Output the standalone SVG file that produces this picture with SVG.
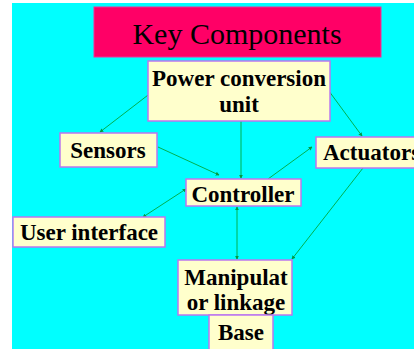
<svg xmlns="http://www.w3.org/2000/svg" width="414" height="349" viewBox="0 0 414 349">
<defs>
<marker id="ah" viewBox="0 0 6 6" refX="5" refY="3" markerWidth="4" markerHeight="4" orient="auto-start-reverse" markerUnits="userSpaceOnUse">
<path d="M0,0 L6,3 L0,6 z" fill="#009944"/>
</marker>
<style>
.box{fill:#FFFFCC;stroke:#BB77EE;stroke-width:1.5}
.lbl{font-family:"Liberation Serif","Times New Roman",serif;font-weight:bold;font-size:23px;fill:#000;text-anchor:middle}
.c{stroke:#00B050;stroke-width:1;fill:none;marker-end:url(#ah)}
</style>
</defs>
<rect x="0" y="0" width="414" height="349" fill="#FFFFFF"/>
<rect x="12" y="3" width="402" height="346" fill="#00FFFF"/>
<g id="title">
<rect x="94" y="7" width="287" height="50" fill="#FF0066" stroke="#EE3399" stroke-width="1"/>
<text x="237" y="44" font-family="Liberation Serif, Times New Roman, serif" font-size="30" text-anchor="middle" fill="#000">Key Components</text>
</g>
<g id="connectors">
<line class="c" x1="152" y1="92" x2="100" y2="132"/>
<line class="c" x1="326" y1="87" x2="362" y2="136"/>
<line class="c" x1="241" y1="121" x2="241" y2="178"/>
<line class="c" x1="158" y1="147" x2="219" y2="175"/>
<line class="c" x1="268" y1="179" x2="312" y2="147"/>
<line class="c" x1="186" y1="189" x2="143" y2="217" style="marker-start:url(#ah)"/>
<line class="c" x1="237" y1="207" x2="237" y2="259" style="marker-start:url(#ah)"/>
<line class="c" x1="363" y1="168" x2="292" y2="259"/>
</g>
<g id="power">
<rect class="box" x="148" y="61" width="182" height="60"/>
<text class="lbl" x="239" y="86">Power conversion</text>
<text class="lbl" x="239" y="112">unit</text>
</g>
<g id="sensors">
<rect class="box" x="60" y="133" width="97" height="34"/>
<text class="lbl" x="108" y="158">Sensors</text>
</g>
<g id="actuators">
<rect class="box" x="316" y="137" width="100" height="31"/>
<text class="lbl" x="323" y="160" style="text-anchor:start">Actuators</text>
</g>
<g id="controller">
<rect class="box" x="186" y="179" width="115" height="27"/>
<text class="lbl" x="243" y="202">Controller</text>
</g>
<g id="userinterface">
<rect class="box" x="13" y="217" width="152" height="30"/>
<text class="lbl" x="89" y="240">User interface</text>
</g>
<g id="manipulator">
<rect class="box" x="178" y="260" width="114" height="55"/>
<text class="lbl" x="236" y="285">Manipulat</text>
<text class="lbl" x="236" y="310">or linkage</text>
</g>
<g id="base">
<rect class="box" x="209" y="315" width="64" height="38"/>
<text class="lbl" x="241" y="340">Base</text>
</g>
</svg>
